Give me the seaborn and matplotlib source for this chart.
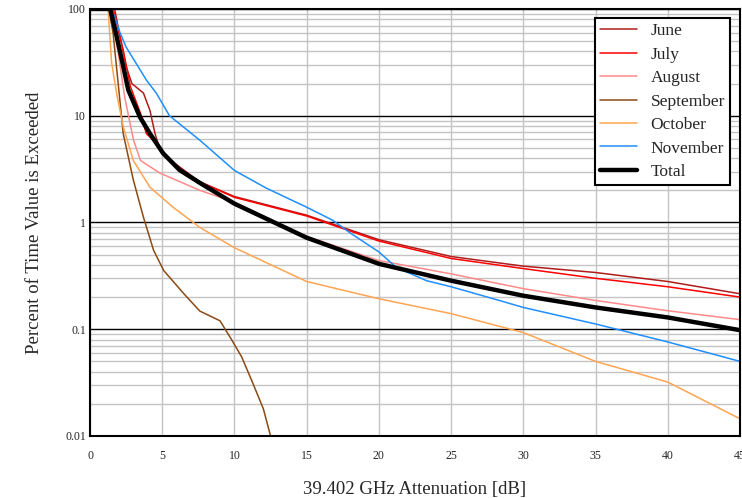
import matplotlib
matplotlib.use("Agg")
import matplotlib.pyplot as plt
import seaborn as sns
from matplotlib.ticker import FixedLocator, LogLocator, FuncFormatter
sns.set_style("white")
plt.rcParams['font.family'] = ['Liberation Serif', 'DejaVu Serif']

# exceedance curves (x in dB, y in percent of time)
june_x = [0, 1.7, 2.5, 2.9, 3.7, 4.15, 4.5, 4.85, 5.5, 7.6, 10, 15, 20, 25, 30, 35, 40, 45]
june_y = [100, 100, 29, 20, 16.3, 11.2, 6.8, 4.8, 3.9, 2.4, 1.75, 1.17, 0.69, 0.48, 0.39, 0.34, 0.28, 0.215]
july_x = [0, 1.6, 2.3, 2.8, 3.5, 3.9, 4.6, 5.1, 6.2, 7.6, 10, 15, 20, 25, 30, 35, 40, 45]
july_y = [100, 100, 41, 18.7, 10.5, 6.8, 5.5, 4.4, 3.1, 2.4, 1.72, 1.15, 0.67, 0.46, 0.37, 0.30, 0.25, 0.20]
august_x = [0, 1.4, 1.95, 2.4, 3.0, 3.5, 4.85, 7.6, 10, 15, 20, 25, 30, 35, 40, 45]
august_y = [100, 100, 39, 15, 6.0, 3.8, 2.9, 2.0, 1.55, 0.74, 0.44, 0.33, 0.24, 0.186, 0.149, 0.123]
september_x = [0, 1.3, 1.6, 2.3, 3.0, 3.7, 4.4, 5.1, 6.5, 7.6, 9.0, 9.8, 10.5, 11.2, 12.0, 12.5]
september_y = [100, 100, 59, 6.8, 2.5, 1.12, 0.55, 0.355, 0.215, 0.148, 0.12, 0.08, 0.055, 0.033, 0.018, 0.01]
october_x = [0, 1.25, 1.5, 1.85, 2.3, 3.0, 4.15, 5.75, 7.6, 10, 15, 20, 25, 30, 35, 40, 45]
october_y = [100, 100, 31, 16, 7.9, 3.8, 2.14, 1.39, 0.9, 0.58, 0.28, 0.193, 0.14, 0.093, 0.05, 0.032, 0.0145]
november_x = [0, 1.5, 2.1, 2.5, 3.9, 4.6, 5.5, 7.6, 10, 12.2, 15, 16.8, 18, 20, 21.2, 23.3, 25, 28.4, 30, 35, 40, 45]
november_y = [100, 100, 59, 44, 21.6, 16.2, 10, 5.9, 3.07, 2.1, 1.39, 1.05, 0.8, 0.53, 0.38, 0.285, 0.25, 0.185, 0.16, 0.112, 0.076, 0.05]
total_x = [0, 1.4, 1.85, 2.3, 2.65, 3.46, 4.15, 5.06, 6.2, 7.6, 10, 15, 20, 25, 30, 35, 40, 45]
total_y = [100, 100, 55, 29, 17.4, 9.7, 6.8, 4.45, 3.1, 2.35, 1.5, 0.72, 0.41, 0.285, 0.206, 0.16, 0.129, 0.098]

names = ['June', 'July', 'August', 'September', 'October', 'November', 'Total']
xs = [june_x, july_x, august_x, september_x, october_x, november_x, total_x]
ys = [june_y, july_y, august_y, september_y, october_y, november_y, total_y]
colors = ['#b01c1c', '#ff0000', '#ff8a8a', '#8b4a14', '#ffa552', '#1e8fff', 'black']
widths = [1.1, 1.1, 1.1, 1.1, 1.1, 1.1, 3.2]

fig = plt.figure(figsize=(7.42, 4.98), dpi=100)
ax = fig.add_axes([0.1213, 0.1245, 0.876, 0.8575])

for name, x, y, c, lw in zip(names, xs, ys, colors, widths):
    sns.lineplot(x=x, y=y, ax=ax, color=c, linewidth=lw, label=name,
                 sort=False, estimator=None)

ax.set_yscale('log')
ax.set_ylim(0.01, 100)
ax.set_xlim(0, 45)
ax.xaxis.set_major_locator(FixedLocator(range(0, 50, 5)))
ax.yaxis.set_major_locator(FixedLocator([0.01, 0.1, 1, 10, 100]))
ax.yaxis.set_minor_locator(LogLocator(base=10, subs=range(2, 10)))
ax.yaxis.set_major_formatter(FuncFormatter(lambda v, p: ('%g' % v)))
ax.yaxis.set_minor_formatter(FuncFormatter(lambda v, p: ''))

ax.set_axisbelow(True)
ax.grid(which='minor', axis='y', color='#c4c4c4', linewidth=1)
ax.grid(which='major', axis='y', color='black', linewidth=1)
ax.grid(which='major', axis='x', color='#c4c4c4', linewidth=1)
ax.tick_params(which='both', length=0, labelsize=8.5)
ax.tick_params(axis='x', pad=10)
ax.tick_params(axis='y', pad=3)
for s in ax.spines.values():
    s.set_color('black')
    s.set_linewidth(1.5)

ax.set_xlabel('39.402 GHz Attenuation [dB]', fontsize=13.5, labelpad=14)
ax.set_ylabel('Percent of Time Value is Exceeded', fontsize=13.5, labelpad=16)

leg = ax.legend(loc='upper right', bbox_to_anchor=(0.985, 0.979), fontsize=12.5,
                frameon=True, fancybox=False, framealpha=1, edgecolor='black',
                labelspacing=0.42, handlelength=2.1, handletextpad=0.8,
                borderpad=0.3, borderaxespad=0)
leg.get_frame().set_linewidth(1.5)

fig.savefig('out.png', dpi=100)
